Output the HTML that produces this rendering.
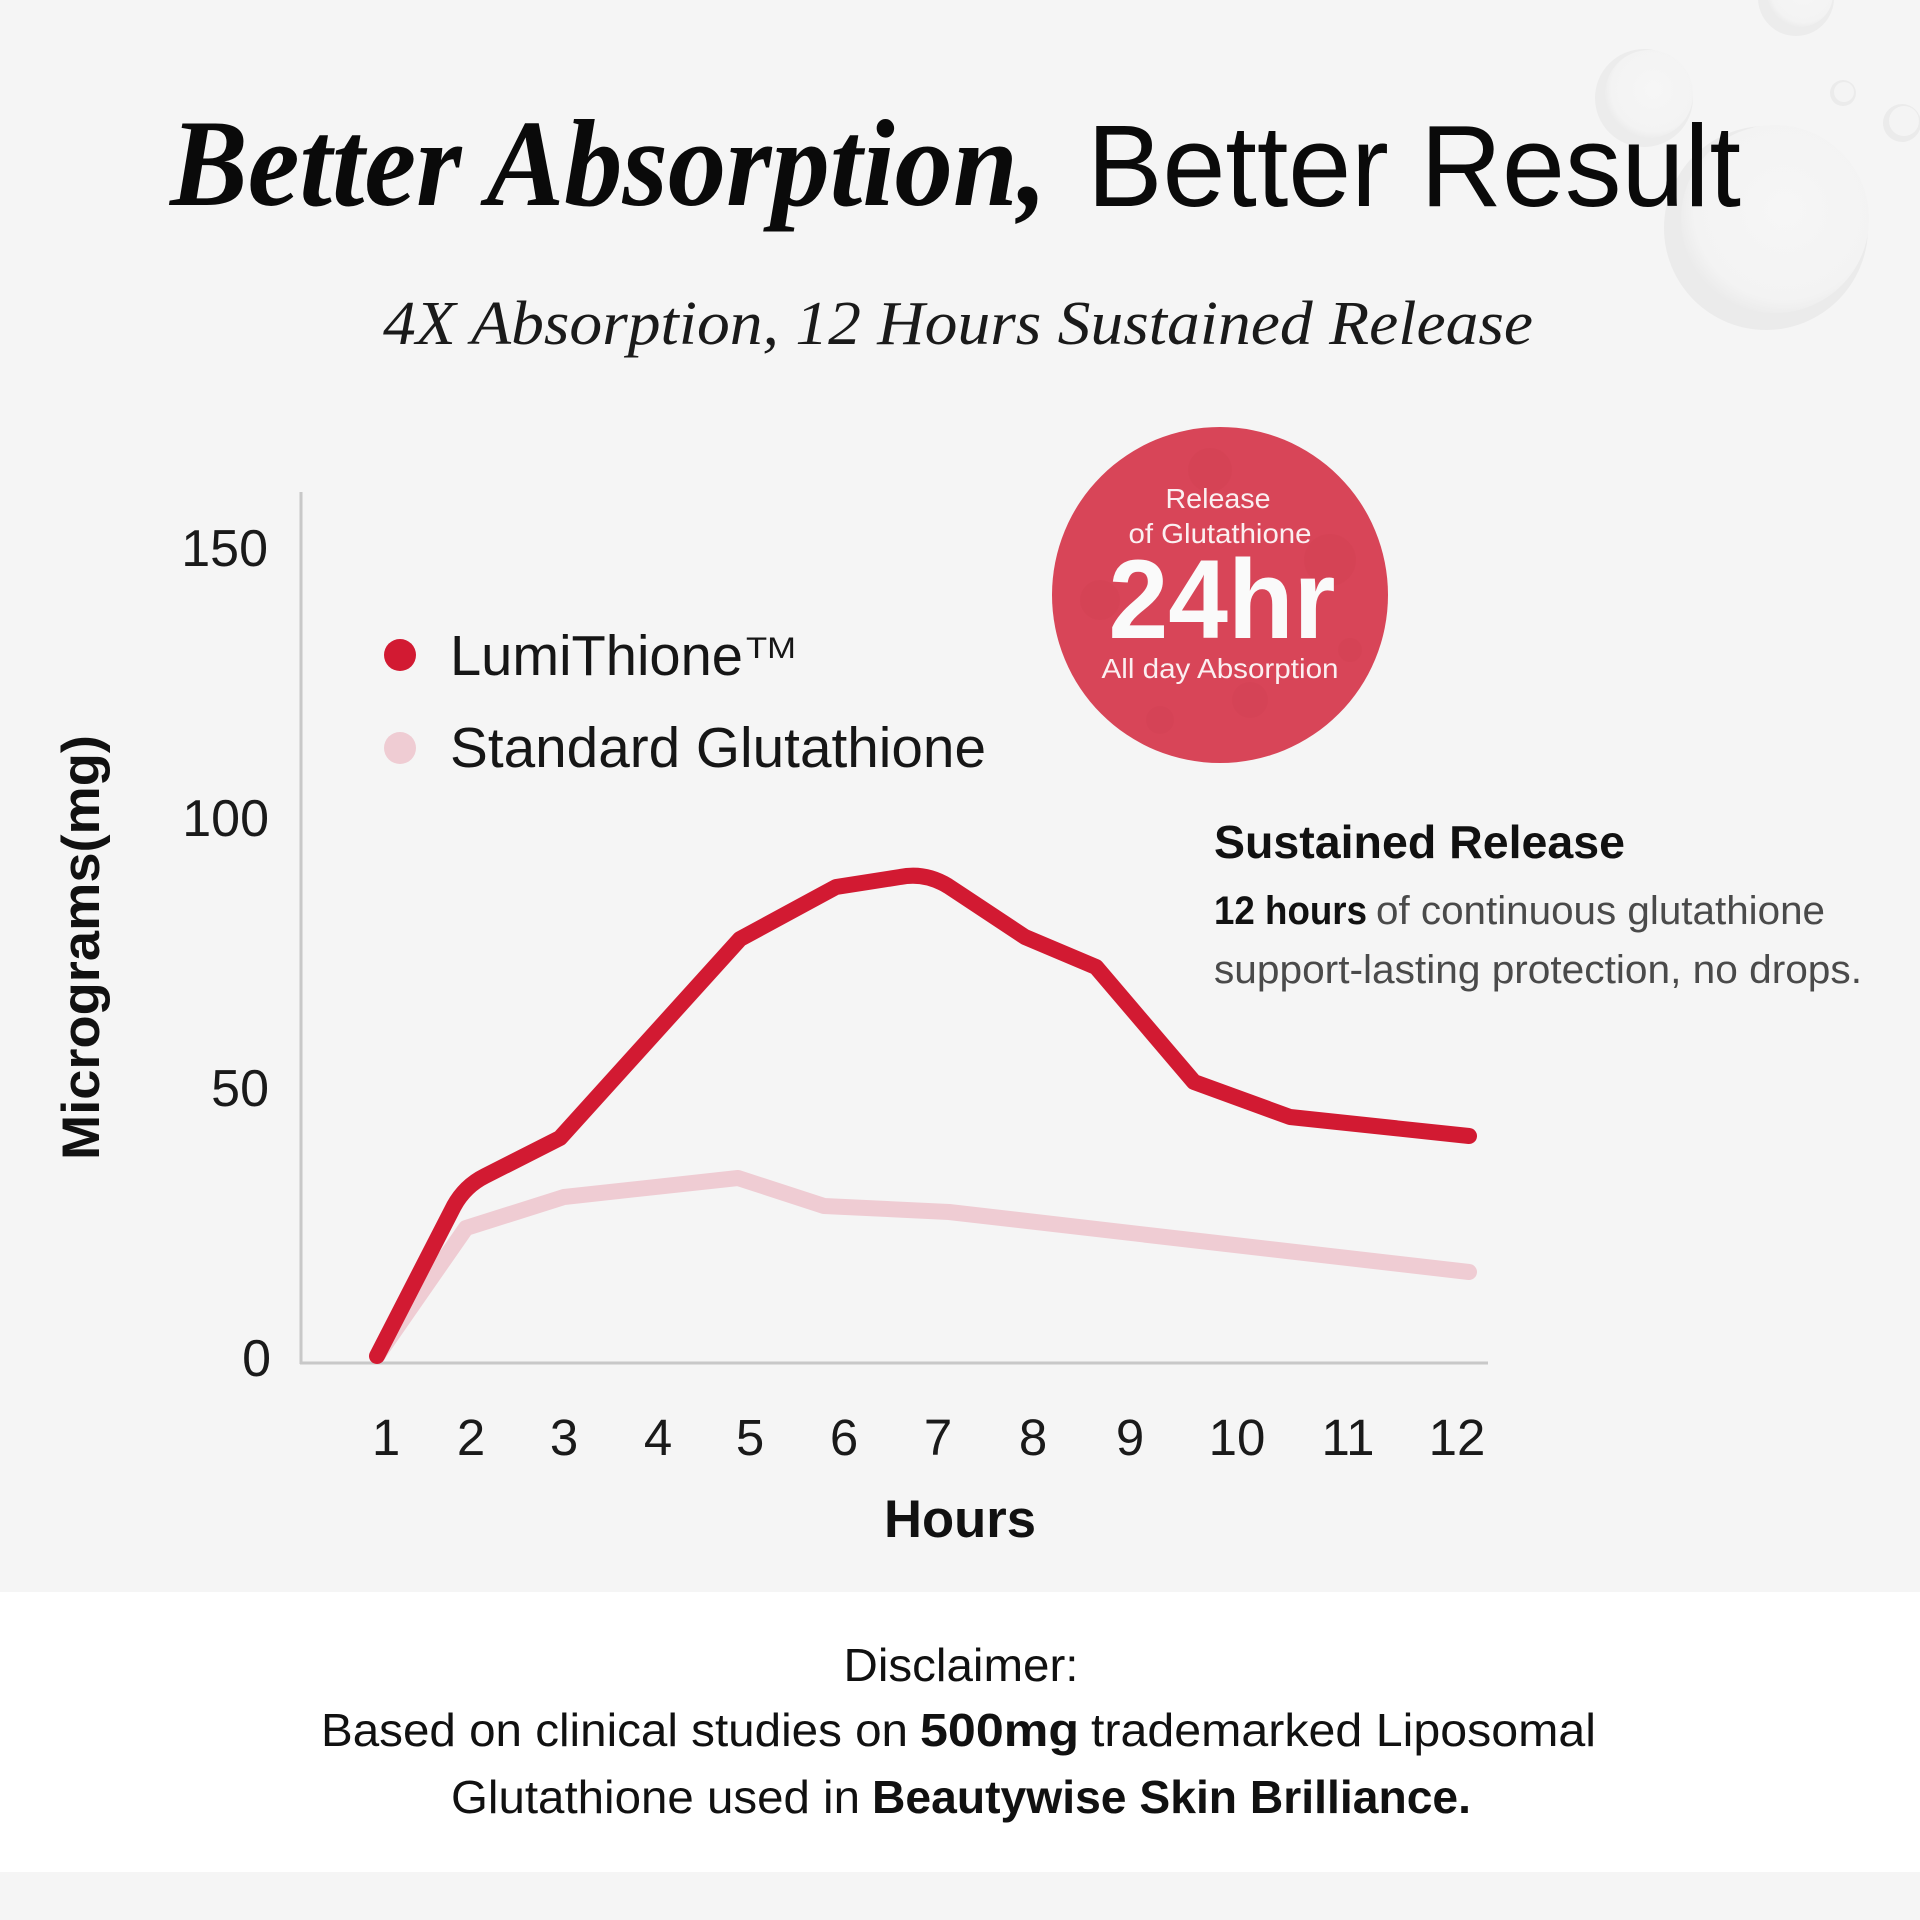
<!DOCTYPE html>
<html>
<head>
<meta charset="utf-8">
<style>
html,body{margin:0;padding:0;background:#f5f5f5;}
svg{display:block;}
</style>
</head>
<body>
<svg width="1920" height="1920" viewBox="0 0 1920 1920" xmlns="http://www.w3.org/2000/svg">
  <defs>
    <radialGradient id="bub" cx="55%" cy="45%" r="60%">
      <stop offset="0%" stop-color="#f6f6f6"/>
      <stop offset="80%" stop-color="#f3f3f3"/>
      <stop offset="100%" stop-color="#e9e9e9"/>
    </radialGradient>
  </defs>
  <!-- backgrounds -->
  <rect x="0" y="0" width="1920" height="1920" fill="#f5f5f5"/>
  <rect x="0" y="1592" width="1920" height="280" fill="#ffffff"/>

  <!-- bubbles -->
  <g>
    <circle cx="1766" cy="228" r="102" fill="#ebebeb"/>
    <circle cx="1775" cy="219" r="94" fill="url(#bub)"/>
    <circle cx="1644" cy="98" r="49" fill="#ececec"/>
    <circle cx="1649" cy="94" r="44" fill="url(#bub)"/>
    <circle cx="1796" cy="-2" r="38" fill="#ececec"/>
    <circle cx="1800" cy="-6" r="33" fill="url(#bub)"/>
    <circle cx="1843" cy="93" r="13" fill="#ebebeb"/>
    <circle cx="1844" cy="92" r="10" fill="#f4f4f4"/>
    <circle cx="1902" cy="123" r="19" fill="#ebebeb"/>
    <circle cx="1904" cy="121" r="15" fill="#f4f4f4"/>
  </g>

  <!-- Title -->
  <text x="170" y="205" font-family="'Liberation Serif', serif" font-style="italic" font-weight="bold" font-size="124" fill="#0a0a0a" textLength="877" lengthAdjust="spacingAndGlyphs">Better Absorption,</text>
  <text x="1087" y="206" font-family="'Liberation Sans', sans-serif" font-size="116" fill="#0a0a0a" textLength="654" lengthAdjust="spacingAndGlyphs">Better Result</text>

  <!-- Subtitle -->
  <text x="383" y="344" font-family="'Liberation Serif', serif" font-style="italic" font-size="62" fill="#1a1a1a" textLength="1150" lengthAdjust="spacingAndGlyphs">4X Absorption, 12 Hours Sustained Release</text>

  <!-- Axes -->
  <line x1="301" y1="492" x2="301" y2="1364" stroke="#c8c8c8" stroke-width="3"/>
  <line x1="300" y1="1363" x2="1488" y2="1363" stroke="#c8c8c8" stroke-width="3"/>

  <!-- Y tick labels -->
  <g font-family="'Liberation Sans', sans-serif" font-size="52" fill="#1a1a1a" text-anchor="end">
    <text x="268" y="566">150</text>
    <text x="269" y="836">100</text>
    <text x="269" y="1106">50</text>
    <text x="271" y="1376">0</text>
  </g>

  <!-- Y axis title -->
  <text transform="translate(99,947.5) rotate(-90)" text-anchor="middle" font-family="'Liberation Sans', sans-serif" font-weight="bold" font-size="53" fill="#111" textLength="425" lengthAdjust="spacingAndGlyphs">Micrograms(mg)</text>

  <!-- X tick labels -->
  <g font-family="'Liberation Sans', sans-serif" font-size="51" fill="#1a1a1a" text-anchor="middle">
    <text x="386" y="1455">1</text>
    <text x="471" y="1455">2</text>
    <text x="564" y="1455">3</text>
    <text x="658" y="1455">4</text>
    <text x="750" y="1455">5</text>
    <text x="844" y="1455">6</text>
    <text x="938" y="1455">7</text>
    <text x="1033" y="1455">8</text>
    <text x="1130" y="1455">9</text>
    <text x="1237" y="1455">10</text>
    <text x="1348" y="1455">11</text>
    <text x="1457" y="1455">12</text>
  </g>
  <text x="960" y="1537" text-anchor="middle" font-family="'Liberation Sans', sans-serif" font-weight="bold" font-size="53" fill="#111" textLength="152" lengthAdjust="spacingAndGlyphs">Hours</text>

  <!-- Series -->
  <polyline points="377,1356 466,1228 564,1197 738,1178 824,1206 949,1212 1469,1272" fill="none" stroke="#efccd3" stroke-width="16" stroke-linejoin="round" stroke-linecap="round"/>
  <path d="M377,1356 L454,1206 Q465,1186 485,1176 L560,1138 L740,939 L836,887 L900,877 Q925,872 948,886 L1025,937 L1096,967 L1194,1082 L1290,1117 L1469,1136" fill="none" stroke="#d21a32" stroke-width="16" stroke-linejoin="round" stroke-linecap="round"/>

  <!-- Legend -->
  <circle cx="400" cy="655" r="16" fill="#d21a32"/>
  <circle cx="400" cy="748" r="16" fill="#efccd3"/>
  <g font-family="'Liberation Sans', sans-serif" fill="#161616">
    <text x="450" y="675" font-size="57" textLength="293" lengthAdjust="spacingAndGlyphs">LumiThione</text>
    <text x="746" y="658" font-size="30" textLength="50" lengthAdjust="spacingAndGlyphs">TM</text>
    <text x="450" y="767" font-size="57" textLength="536" lengthAdjust="spacingAndGlyphs">Standard Glutathione</text>
  </g>

  <!-- Badge -->
  <circle cx="1220" cy="595" r="168" fill="#d84558"/>
  <g fill="#c93a4d" opacity="0.15">
    <circle cx="1210" cy="470" r="22"/>
    <circle cx="1330" cy="560" r="26"/>
    <circle cx="1100" cy="600" r="20"/>
    <circle cx="1250" cy="700" r="18"/>
    <circle cx="1160" cy="720" r="14"/>
    <circle cx="1350" cy="650" r="12"/>
  </g>
  <g font-family="'Liberation Sans', sans-serif" fill="#fbeff1" text-anchor="middle">
    <text x="1218" y="508" font-size="28" textLength="105" lengthAdjust="spacingAndGlyphs">Release</text>
    <text x="1220" y="543" font-size="28" textLength="183" lengthAdjust="spacingAndGlyphs">of Glutathione</text>
    <text x="1222" y="638" font-size="112" font-weight="bold" fill="#fafafa" textLength="227" lengthAdjust="spacingAndGlyphs">24hr</text>
    <text x="1220" y="678" font-size="28" textLength="237" lengthAdjust="spacingAndGlyphs">All day Absorption</text>
  </g>

  <!-- Sustained release text -->
  <g font-family="'Liberation Sans', sans-serif">
    <text x="1214" y="858" font-size="46" font-weight="bold" fill="#111" textLength="411" lengthAdjust="spacingAndGlyphs">Sustained Release</text>
    <text x="1214" y="924" font-size="40" font-weight="bold" fill="#111" textLength="153" lengthAdjust="spacingAndGlyphs">12 hours</text>
    <text x="1376" y="924" font-size="40" fill="#4a4a4a" textLength="449" lengthAdjust="spacingAndGlyphs">of continuous glutathione</text>
    <text x="1214" y="983" font-size="40" fill="#4a4a4a" textLength="648" lengthAdjust="spacingAndGlyphs">support-lasting protection, no drops.</text>
  </g>

  <!-- Disclaimer -->
  <g font-family="'Liberation Sans', sans-serif" fill="#111" font-size="46">
    <text x="961" y="1681" text-anchor="middle" textLength="235" lengthAdjust="spacingAndGlyphs">Disclaimer:</text>
    <text x="321" y="1746" textLength="587" lengthAdjust="spacingAndGlyphs">Based on clinical studies on</text>
    <text x="920" y="1746" font-weight="bold" textLength="159" lengthAdjust="spacingAndGlyphs">500mg</text>
    <text x="1091" y="1746" textLength="505" lengthAdjust="spacingAndGlyphs">trademarked Liposomal</text>
    <text x="451" y="1813" textLength="409" lengthAdjust="spacingAndGlyphs">Glutathione used in</text>
    <text x="872" y="1813" font-weight="bold" textLength="599" lengthAdjust="spacingAndGlyphs">Beautywise Skin Brilliance.</text>
  </g>
</svg>
</body>
</html>
